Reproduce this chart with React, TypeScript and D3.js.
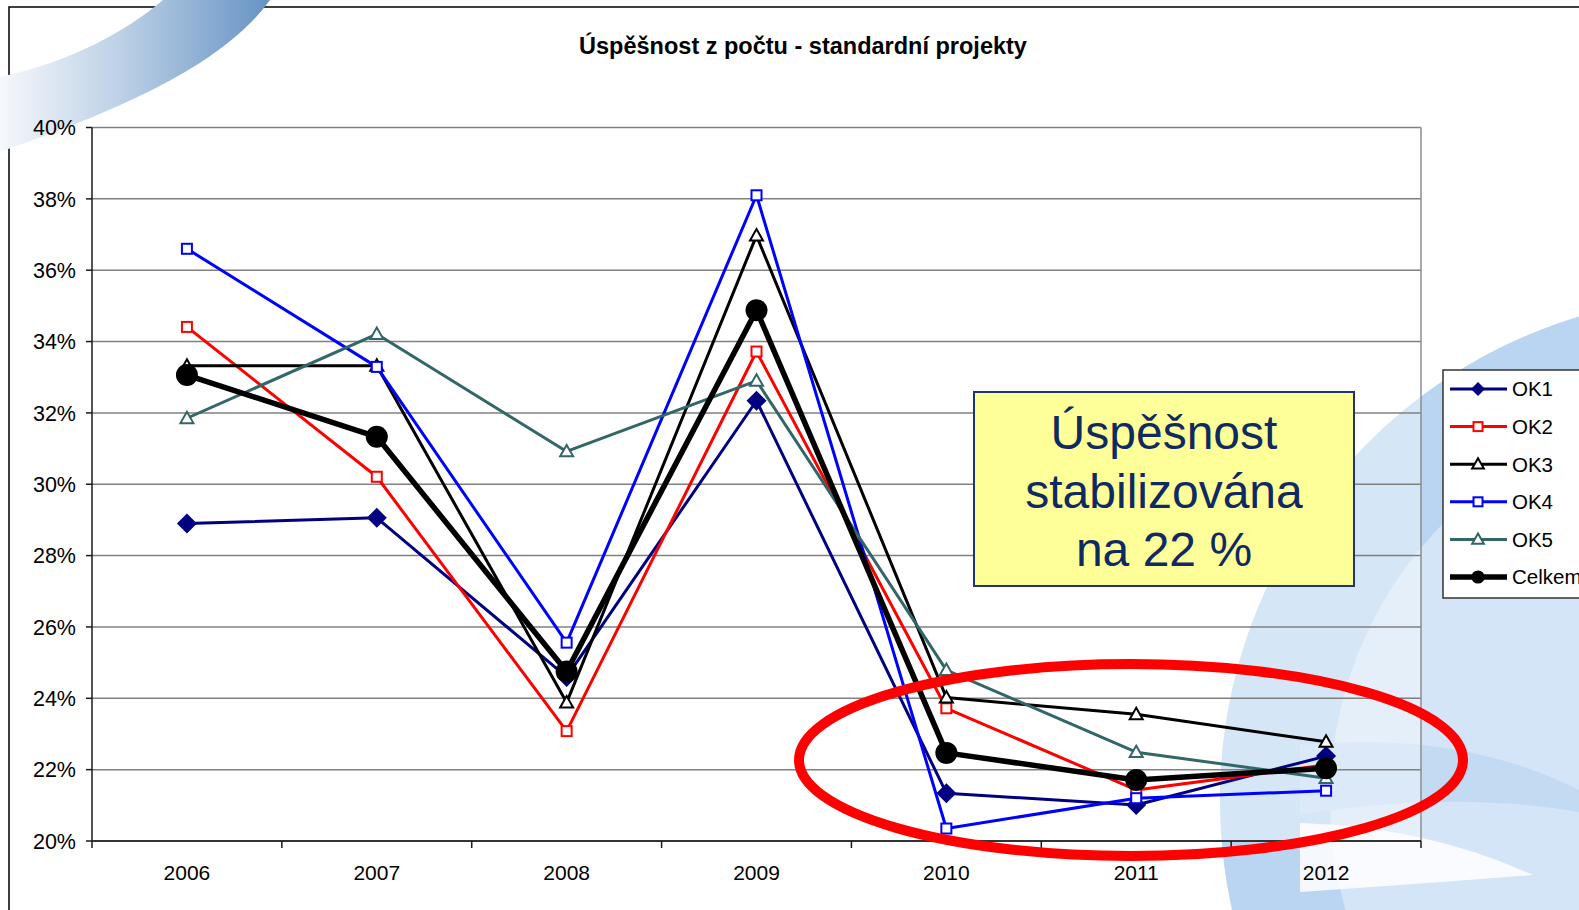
import { useEffect, useRef } from 'react';
import * as d3 from 'd3';

const years = ['2006', '2007', '2008', '2009', '2010', '2011', '2012'];
const ok1 = [28.9, 29.06, 24.6, 32.34, 21.34, 21.01, 22.38];
const ok2 = [34.41, 30.21, 23.08, 33.72, 23.72, 21.43, 22.13];
const ok3 = [33.32, 33.32, 23.88, 36.97, 24.02, 23.55, 22.78];
const ok4 = [36.6, 33.29, 25.56, 38.1, 20.35, 21.2, 21.41];
const ok5 = [31.85, 34.21, 30.92, 32.9, 24.79, 22.49, 21.76];
const celkem = [33.06, 31.33, 24.75, 34.88, 22.47, 21.71, 22.04];
const yTicks = [20, 22, 24, 26, 28, 30, 32, 34, 36, 38, 40];

const title = 'Úspěšnost z počtu - standardní projekty';
const noteLines = ['Úspěšnost', 'stabilizována', 'na 22 %'];

type Marker = 'diamond' | 'square' | 'triangle' | 'circle';

const series: { name: string; values: number[]; color: string; width: number; marker: Marker }[] = [
  { name: 'OK1', values: ok1, color: '#000080', width: 3, marker: 'diamond' },
  { name: 'OK2', values: ok2, color: '#ff0000', width: 3, marker: 'square' },
  { name: 'OK3', values: ok3, color: '#000000', width: 3, marker: 'triangle' },
  { name: 'OK4', values: ok4, color: '#0000ff', width: 3, marker: 'square' },
  { name: 'OK5', values: ok5, color: '#336666', width: 3, marker: 'triangle' },
  { name: 'Celkem', values: celkem, color: '#000000', width: 5.5, marker: 'circle' },
];

const FONT = '"Liberation Sans", Arial, sans-serif';

function drawMarker(
  g: d3.Selection<SVGGElement, unknown, null, undefined>,
  kind: Marker,
  cx: number,
  cy: number,
  color: string,
  scale = 1
) {
  if (kind === 'diamond') {
    const r = 10 * scale;
    g.append('path')
      .attr('d', `M${cx},${cy - r}L${cx + r},${cy}L${cx},${cy + r}L${cx - r},${cy}Z`)
      .attr('fill', color);
  } else if (kind === 'square') {
    const s = 10 * scale;
    g.append('rect')
      .attr('x', cx - s / 2)
      .attr('y', cy - s / 2)
      .attr('width', s)
      .attr('height', s)
      .attr('fill', '#fff')
      .attr('stroke', color)
      .attr('stroke-width', 2);
  } else if (kind === 'triangle') {
    const s = 6.5 * scale;
    g.append('path')
      .attr('d', `M${cx},${cy - s}L${cx + s},${cy + s * 0.75}L${cx - s},${cy + s * 0.75}Z`)
      .attr('fill', '#fff')
      .attr('stroke', color)
      .attr('stroke-width', 2);
  } else {
    g.append('circle')
      .attr('cx', cx)
      .attr('cy', cy)
      .attr('r', 11 * scale)
      .attr('fill', color);
  }
}

export default function App() {
  const svgRef = useRef<SVGSVGElement>(null);
  const width = 1579;
  const height = 910;

  useEffect(() => {
    if (!svgRef.current) return;
    const svg = d3.select(svgRef.current);
    svg.selectAll('*').remove();

    const plot = { left: 92, right: 1421, top: 127.5, bottom: 841 };

    // background decoration
    const defs = svg.append('defs');
    const grad = defs
      .append('linearGradient')
      .attr('id', 'swoosh')
      .attr('x1', '0%')
      .attr('x2', '100%')
      .attr('y1', '0%')
      .attr('y2', '0%');
    grad.append('stop').attr('offset', '0%').attr('stop-color', '#f6f8fc');
    grad.append('stop').attr('offset', '45%').attr('stop-color', '#bcd0e6');
    grad.append('stop').attr('offset', '100%').attr('stop-color', '#6693c4');

    svg.append('rect').attr('width', width).attr('height', height).attr('fill', '#fff');

    const bg = svg.append('g');
    bg.append('circle')
      .attr('cx', 1725)
      .attr('cy', 800)
      .attr('r', 505)
      .attr('fill', '#d3e5f7');
    bg.append('circle')
      .attr('cx', 1725)
      .attr('cy', 800)
      .attr('r', 450)
      .attr('fill', 'none')
      .attr('stroke', '#b9d5f1')
      .attr('stroke-width', 110);
    bg.append('path')
      .attr('d', 'M1300,745 Q1460,730 1579,790 L1579,812 Q1450,790 1300,815 Z')
      .attr('fill', '#c3daf3');
    bg.append('path')
      .attr('d', 'M1300,823 Q1425,826 1533,875 Q1420,884 1300,892 Z')
      .attr('fill', '#ffffff')
      .attr('fill-opacity', 0.85);

    // outer frame
    svg.append('rect')
      .attr('x', 9)
      .attr('y', 7)
      .attr('width', 1700)
      .attr('height', 1000)
      .attr('fill', 'none')
      .attr('stroke', '#000')
      .attr('stroke-width', 1.5);

    svg.append('path')
      .attr('d', 'M0,77 C70,62 125,32 163,0 L270,0 C230,55 150,100 0,152 Z')
      .attr('fill', 'url(#swoosh)');

    // title
    svg.append('text')
      .attr('x', 803)
      .attr('y', 54)
      .attr('text-anchor', 'middle')
      .attr('font-family', FONT)
      .attr('font-weight', 'bold')
      .attr('font-size', 23.5)
      .text(title);

    const x = d3.scaleBand().domain(years).range([plot.left, plot.right]).padding(0);
    const cx = (d: string) => (x(d) || 0) + x.bandwidth() / 2;
    const y = d3.scaleLinear().domain([20, 40]).range([plot.bottom, plot.top]);

    const g = svg.append('g');

    // plot area
    g.append('rect')
      .attr('x', plot.left)
      .attr('y', plot.top)
      .attr('width', plot.right - plot.left)
      .attr('height', plot.bottom - plot.top)
      .attr('fill', '#fff')
      .attr('fill-opacity', 0.4);

    // gridlines
    g.selectAll('.grid')
      .data(yTicks.filter((t) => t > 20))
      .join('line')
      .attr('x1', plot.left)
      .attr('x2', plot.right)
      .attr('y1', (d) => y(d))
      .attr('y2', (d) => y(d))
      .attr('stroke', '#808080')
      .attr('stroke-width', 1.5);

    g.append('line')
      .attr('x1', plot.right)
      .attr('x2', plot.right)
      .attr('y1', plot.top)
      .attr('y2', plot.bottom)
      .attr('stroke', '#8c8c8c')
      .attr('stroke-width', 1.5);

    // y axis
    g.append('line')
      .attr('x1', plot.left)
      .attr('x2', plot.left)
      .attr('y1', plot.top)
      .attr('y2', plot.bottom)
      .attr('stroke', '#1a1a1a')
      .attr('stroke-width', 1.5);
    g.selectAll('.ytick')
      .data(yTicks)
      .join('line')
      .attr('x1', plot.left - 6)
      .attr('x2', plot.left)
      .attr('y1', (d) => y(d))
      .attr('y2', (d) => y(d))
      .attr('stroke', '#1a1a1a')
      .attr('stroke-width', 1.5);
    g.selectAll('.ylabel')
      .data(yTicks)
      .join('text')
      .attr('x', plot.left - 16)
      .attr('y', (d) => y(d))
      .attr('dy', '0.36em')
      .attr('text-anchor', 'end')
      .attr('font-family', FONT)
      .attr('font-size', 21.5)
      .text((d) => `${d}%`);

    // x axis
    g.append('line')
      .attr('x1', plot.left)
      .attr('x2', plot.right)
      .attr('y1', plot.bottom)
      .attr('y2', plot.bottom)
      .attr('stroke', '#333')
      .attr('stroke-width', 2);
    const bounds = years.map((d) => x(d) || 0).concat([plot.right]);
    g.selectAll('.xtick')
      .data(bounds)
      .join('line')
      .attr('x1', (d) => d)
      .attr('x2', (d) => d)
      .attr('y1', plot.bottom)
      .attr('y2', plot.bottom + 7)
      .attr('stroke', '#1a1a1a')
      .attr('stroke-width', 1.5);
    g.selectAll('.xlabel')
      .data(years)
      .join('text')
      .attr('x', (d) => cx(d))
      .attr('y', 880)
      .attr('text-anchor', 'middle')
      .attr('font-family', FONT)
      .attr('font-size', 21)
      .text((d) => d);

    // series
    const line = d3
      .line<number>()
      .x((_, i) => cx(years[i]))
      .y((d) => y(d));

    series.forEach((s) => {
      const sg = g.append('g');
      sg.append('path')
        .attr('d', line(s.values) || '')
        .attr('fill', 'none')
        .attr('stroke', s.color)
        .attr('stroke-width', s.width)
        .attr('stroke-linejoin', 'round');
      s.values.forEach((v, i) => drawMarker(sg, s.marker, cx(years[i]), y(v), s.color));
    });

    // annotation box
    const note = svg.append('g');
    note.append('rect')
      .attr('x', 974)
      .attr('y', 392)
      .attr('width', 380)
      .attr('height', 194)
      .attr('fill', '#ffff99')
      .attr('stroke', '#1f3670')
      .attr('stroke-width', 2);
    note.selectAll('text')
      .data(noteLines)
      .join('text')
      .attr('x', 1164)
      .attr('y', (_, i) => 449 + i * 58.5)
      .attr('text-anchor', 'middle')
      .attr('font-family', FONT)
      .attr('font-size', 48)
      .attr('fill', '#0f2a5f')
      .text((d) => d);

    // red ellipse
    svg.append('ellipse')
      .attr('cx', 1131)
      .attr('cy', 760)
      .attr('rx', 332)
      .attr('ry', 96)
      .attr('fill', 'none')
      .attr('stroke', '#ff0000')
      .attr('stroke-width', 10);

    // legend
    const lg = svg.append('g');
    lg.append('rect')
      .attr('x', 1443)
      .attr('y', 370)
      .attr('width', 200)
      .attr('height', 228)
      .attr('fill', '#fff')
      .attr('stroke', '#333')
      .attr('stroke-width', 1.5);
    series.forEach((s, i) => {
      const ly = 389 + i * 37.6;
      const eg = lg.append('g');
      eg.append('line')
        .attr('x1', 1450)
        .attr('x2', 1507)
        .attr('y1', ly)
        .attr('y2', ly)
        .attr('stroke', s.color)
        .attr('stroke-width', s.width);
      drawMarker(eg, s.marker, 1478, ly, s.color, s.marker === 'circle' ? 0.6 : s.marker === 'diamond' ? 0.7 : 0.9);
      eg.append('text')
        .attr('x', 1512)
        .attr('y', ly)
        .attr('dy', '0.36em')
        .attr('font-family', FONT)
        .attr('font-size', 20.5)
        .text(s.name);
    });
  }, []);

  return (
    <svg
      ref={svgRef}
      width={width}
      height={height}
      style={{ position: 'absolute', left: 0, top: 0, display: 'block' }}
    />
  );
}
